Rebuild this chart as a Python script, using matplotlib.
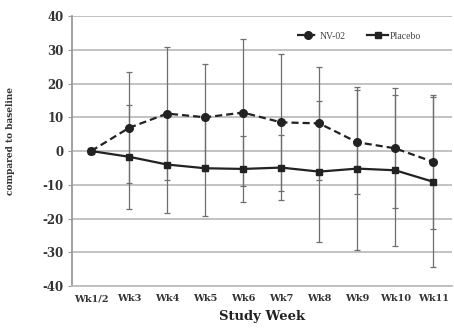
import matplotlib
import matplotlib.pyplot as plt

matplotlib.use("Agg")
plt.rcParams["axes.unicode_minus"] = False

weeks = ["Wk1/2", "Wk3", "Wk4", "Wk5", "Wk6", "Wk7", "Wk8", "Wk9", "Wk10", "Wk11"]

nv02_mean = [0, 6.9, 11.1, 10.0, 11.4, 8.5, 8.2, 2.6, 0.8, -3.2]
nv02_sd = [0, 16.5, 19.6, 15.8, 21.7, 20.4, 16.8, 15.4, 17.8, 19.9]

placebo_mean = [0, -1.7, -4.0, -5.1, -5.3, -4.9, -6.1, -5.2, -5.7, -9.1]
placebo_sd = [0, 15.4, 14.3, 14.2, 9.7, 9.6, 20.9, 24.2, 22.3, 25.2]

SERIF = "DejaVu Serif"
GRID = "#bdbdbd"

fig = plt.figure(figsize=(4.54, 3.28), dpi=100)
ax = fig.add_axes([0.159, 0.128, 0.837, 0.823])

x = list(range(len(weeks)))

# error bars first so the lines sit on top
for mean, sd in ((nv02_mean, nv02_sd), (placebo_mean, placebo_sd)):
    xs = [i for i in x if sd[i] > 0]
    ax.errorbar(
        xs,
        [mean[i] for i in xs],
        yerr=[sd[i] for i in xs],
        fmt="none",
        ecolor="#6e6e6e",
        elinewidth=0.9,
        capsize=2.2,
        capthick=0.9,
        zorder=2,
    )

ax.plot(x, nv02_mean, color="#222222", linestyle=(0, (3.2, 1.8)), linewidth=1.6,
        marker="o", markersize=5.5, label="NV-02", zorder=3)
ax.plot(x, placebo_mean, color="#222222", linestyle="-", linewidth=1.6,
        marker="s", markersize=5, label="Placebo", zorder=3)

ax.set_xlim(-0.5, len(weeks) - 0.5)
ax.set_ylim(-40, 40)
ax.set_yticks(range(-40, 41, 10))
ax.set_xticks(x)
ax.set_xticklabels(weeks)

ax.yaxis.grid(True, color=GRID, linewidth=1.3)
ax.set_axisbelow(True)
for side in ("top", "right"):
    ax.spines[side].set_visible(False)
ax.spines["bottom"].set_color(GRID)
ax.spines["bottom"].set_linewidth(1.3)
ax.spines["left"].set_color("#9a9a9a")
ax.spines["left"].set_linewidth(1.3)

ax.tick_params(axis="x", length=0, pad=6)
ax.tick_params(axis="y", length=3, color="#9a9a9a", pad=3)
for lbl in ax.get_yticklabels():
    lbl.set_fontfamily(SERIF)
    lbl.set_fontweight("bold")
    lbl.set_fontsize(8.5)
    lbl.set_color("#333333")
for lbl in ax.get_xticklabels():
    lbl.set_fontfamily(SERIF)
    lbl.set_fontweight("bold")
    lbl.set_fontsize(7)
    lbl.set_color("#333333")

ax.set_xlabel("Study Week", fontfamily=SERIF, fontweight="bold", fontsize=9.5,
              color="#222222", labelpad=5)
fig.text(0.024, 0.57, "compared to baseline", rotation=90, ha="center", va="center",
         fontfamily=SERIF, fontweight="bold", fontsize=6.5, color="#333333")

ax.legend(loc="upper right", bbox_to_anchor=(0.94, 0.975), ncol=2, frameon=False,
          prop={"family": "Liberation Serif", "size": 7}, handlelength=2.2,
          columnspacing=2.2, handletextpad=0.1, labelcolor="#444444")

fig.savefig("out.png", dpi=100)
